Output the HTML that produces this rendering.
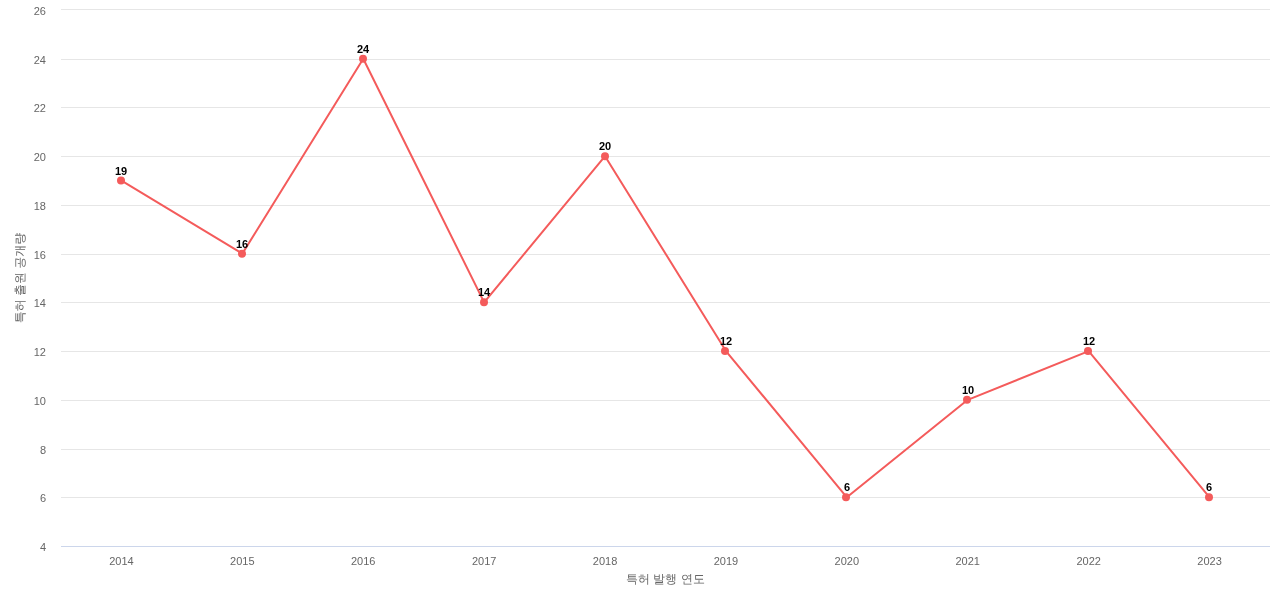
<!DOCTYPE html>
<html lang="ko"><head><meta charset="utf-8"><title>특허 발행 연도</title>
<style>
html,body{margin:0;padding:0;background:#fff;}
body{width:1280px;height:600px;overflow:hidden;}
svg{display:block;font-family:"Liberation Sans","WenQuanYi Zen Hei","Noto Sans CJK KR",sans-serif;font-size:12px;}
.yl text,.xl text{font-size:11px;fill:#666666;}
.yl text{text-anchor:end;}
.xl text{text-anchor:middle;}
.t{fill:#666666;text-anchor:middle;font-size:12px;}
.dl text{font-size:11px;font-weight:bold;fill:#000;text-anchor:start;}
</style></head><body>
<svg width="1280" height="600" viewBox="0 0 1280 600">
<rect x="0" y="0" width="1280" height="600" fill="#ffffff"/>
<g class="grid" stroke="#e6e6e6" stroke-width="1" fill="none">
<path d="M 61 9.5 L 1270 9.5"/>
<path d="M 61 59.5 L 1270 59.5"/>
<path d="M 61 107.5 L 1270 107.5"/>
<path d="M 61 156.5 L 1270 156.5"/>
<path d="M 61 205.5 L 1270 205.5"/>
<path d="M 61 254.5 L 1270 254.5"/>
<path d="M 61 302.5 L 1270 302.5"/>
<path d="M 61 351.5 L 1270 351.5"/>
<path d="M 61 400.5 L 1270 400.5"/>
<path d="M 61 449.5 L 1270 449.5"/>
<path d="M 61 497.5 L 1270 497.5"/>
<path d="M 61 546.5 L 1270 546.5"/>
</g>
<path d="M 61 546.5 L 1270 546.5" stroke="#ccd6eb" stroke-width="1" fill="none"/>
<path d="M 121.450 180.545 L 242.350 253.636 L 363.250 58.727 L 484.150 302.364 L 605.050 156.182 L 725.950 351.091 L 846.850 497.273 L 967.750 399.818 L 1088.650 351.091 L 1209.550 497.273" fill="none" stroke="#f45b5b" stroke-width="2" stroke-linejoin="round" stroke-linecap="round"/>
<g fill="#f45b5b">
<circle cx="121" cy="180.545" r="4"/>
<circle cx="242" cy="253.636" r="4"/>
<circle cx="363" cy="58.727" r="4"/>
<circle cx="484" cy="302.364" r="4"/>
<circle cx="605" cy="156.182" r="4"/>
<circle cx="725" cy="351.091" r="4"/>
<circle cx="846" cy="497.273" r="4"/>
<circle cx="967" cy="399.818" r="4"/>
<circle cx="1088" cy="351.091" r="4"/>
<circle cx="1209" cy="497.273" r="4"/>
</g>
<g class="dl">
<text x="115" y="175">19</text>
<text x="236" y="248">16</text>
<text x="357" y="53">24</text>
<text x="478" y="296">14</text>
<text x="599" y="150">20</text>
<text x="720" y="345">12</text>
<text x="844" y="491">6</text>
<text x="962" y="394">10</text>
<text x="1083" y="345">12</text>
<text x="1206" y="491">6</text>
</g>
<g class="yl">
<text x="46" y="15">26</text>
<text x="46" y="64">24</text>
<text x="46" y="112">22</text>
<text x="46" y="161">20</text>
<text x="46" y="210">18</text>
<text x="46" y="259">16</text>
<text x="46" y="307">14</text>
<text x="46" y="356">12</text>
<text x="46" y="405">10</text>
<text x="46" y="454">8</text>
<text x="46" y="502">6</text>
<text x="46" y="551">4</text>
</g>
<g class="xl">
<text x="121.45" y="565">2014</text>
<text x="242.35" y="565">2015</text>
<text x="363.25" y="565">2016</text>
<text x="484.15" y="565">2017</text>
<text x="605.05" y="565">2018</text>
<text x="725.95" y="565">2019</text>
<text x="846.85" y="565">2020</text>
<text x="967.75" y="565">2021</text>
<text x="1088.65" y="565">2022</text>
<text x="1209.55" y="565">2023</text>
</g>
<text class="t" style="text-anchor:start" x="626 638 650 653 665 677 681 693" y="583">특허 발행 연도</text>
<text class="t" x="24" y="278" transform="rotate(270 24 278)">특허 출원 공개량</text>
</svg></body></html>
